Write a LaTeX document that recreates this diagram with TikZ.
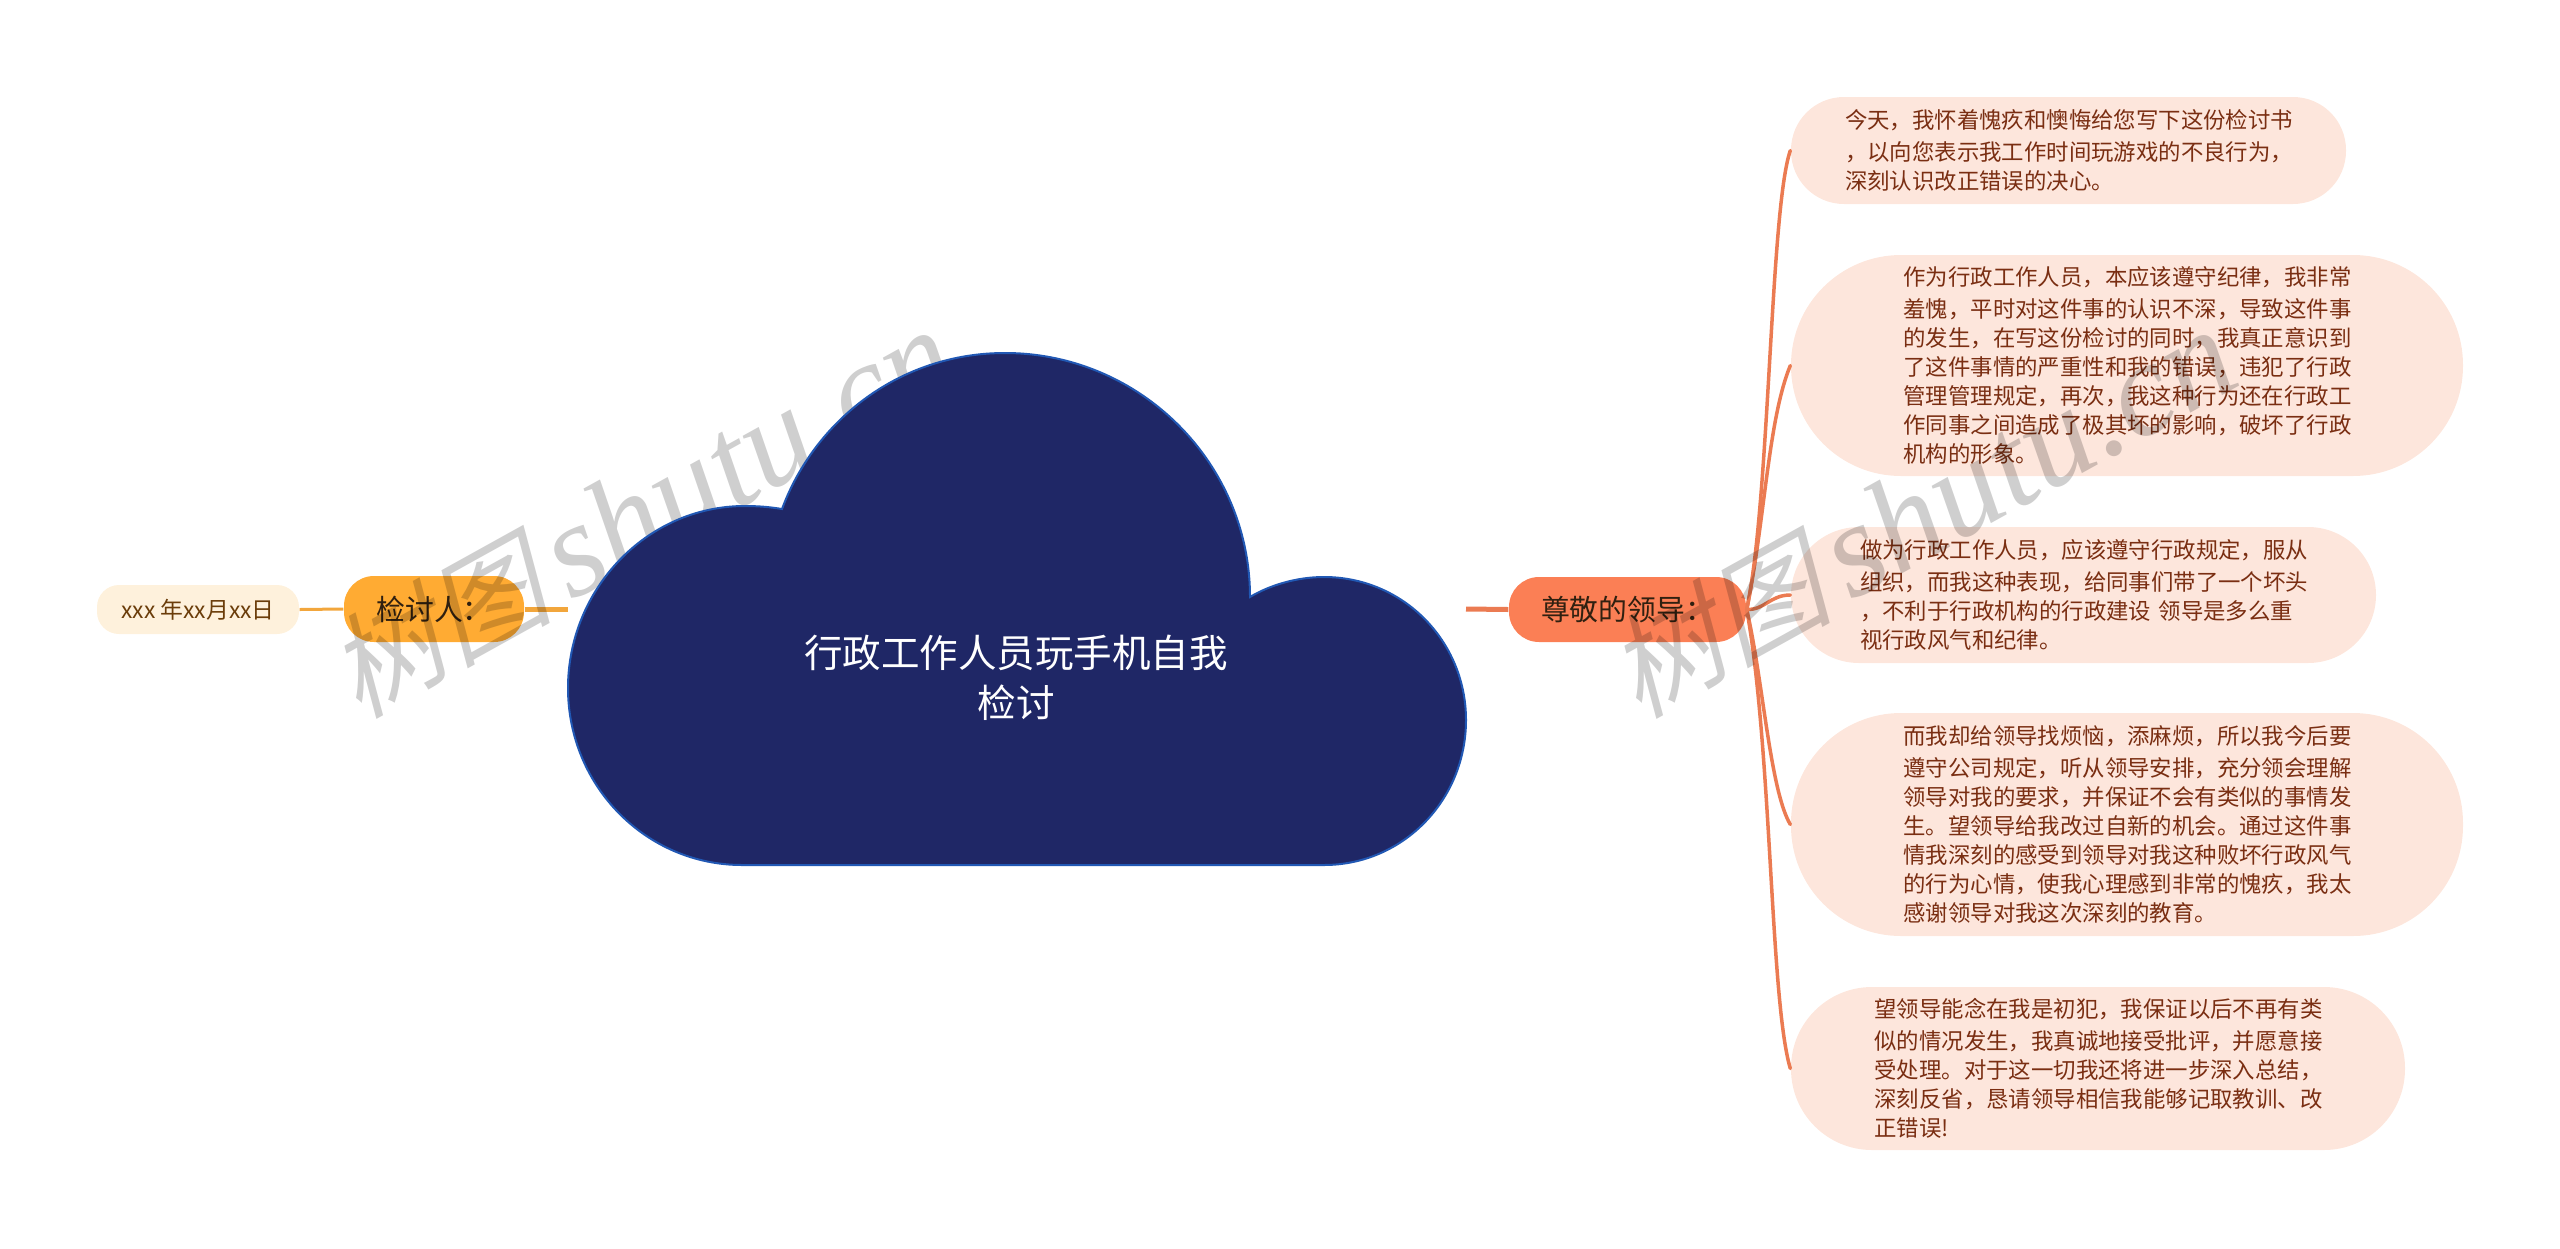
\documentclass[tikz,border=0pt]{standalone}
\usepackage{fontspec}
\setmainfont{Noto Sans CJK SC}
\newfontfamily\wmcjk[FakeSlant=0.25,BoldFeatures={FakeSlant=0.25}]{Noto Sans CJK SC}
\newfontfamily\wmlat{Liberation Serif}
\definecolor{leaffill}{HTML}{FDE6DC}
\definecolor{leafink}{HTML}{7A2E12}
\definecolor{rootfill}{HTML}{1F2766}
\definecolor{rootline}{HTML}{2158B4}
\definecolor{redfill}{HTML}{FB7F55}
\definecolor{redline}{HTML}{EB7B52}
\definecolor{ambfill}{HTML}{FFAB33}
\definecolor{ambline}{HTML}{F2A63C}
\definecolor{datefill}{HTML}{FEF1DC}
\definecolor{dateink}{HTML}{6B3D0A}
\definecolor{wmgray}{HTML}{CFCFCF}
\newlength{\pxu}\setlength{\pxu}{0.01cm}
\newcommand{\wmtext}{{\wmcjk\fontsize{32}{32}\selectfont 树图}\hspace{3pt} {\wmlat\itshape\fontsize{38}{38}\selectfont shutu.cn}}
\tikzset{
  leafbox/.style={fill=leaffill,text=leafink,inner sep=0pt,text width=447\pxu,align=left,
    font=\fontsize{6.37}{8.25}\selectfont,execute at begin node={\vspace*{3\pxu}}},
  topicbox/.style={inner sep=0pt,align=center,font=\fontsize{8.2}{10}\selectfont,text=black!75!brown},
  leafedge/.style={redline,line width=3.5\pxu,line cap=round},
  wmark/.style={text=wmgray,inner sep=0pt,rotate=29,anchor=center}
}
\begin{document}
\begin{tikzpicture}[x=0.01cm,y=-0.01cm]
\useasboundingbox (0,0) rectangle (2560,1248);
% leaf boxes
\node[leafbox,minimum width=555\pxu,minimum height=107\pxu,rounded corners=53\pxu] (l1) at (2068.5,150.5)
 {今天，我怀着愧疚和懊悔给您写下这份检讨书\\，以向您表示我工作时间玩游戏的不良行为，\\深刻认识改正错误的决心。};
\node[leafbox,minimum width=672\pxu,minimum height=221\pxu,rounded corners=110\pxu] (l2) at (2127,365.5)
 {作为行政工作人员，本应该遵守纪律，我非常\\羞愧，平时对这件事的认识不深，导致这件事\\的发生，在写这份检讨的同时，我真正意识到\\了这件事情的严重性和我的错误，违犯了行政\\管理管理规定，再次，我这种行为还在行政工\\作同事之间造成了极其坏的影响，破坏了行政\\机构的形象。};
\node[leafbox,minimum width=585\pxu,minimum height=136\pxu,rounded corners=68\pxu] (l3) at (2083.5,595)
 {做为行政工作人员，应该遵守行政规定，服从\\组织，而我这种表现，给同事们带了一个坏头\\，不利于行政机构的行政建设 领导是多么重\\视行政风气和纪律。};
\node[leafbox,minimum width=672\pxu,minimum height=223\pxu,rounded corners=110\pxu] (l4) at (2127,824.5)
 {而我却给领导找烦恼，添麻烦，所以我今后要\\遵守公司规定，听从领导安排，充分领会理解\\领导对我的要求，并保证不会有类似的事情发\\生。望领导给我改过自新的机会。通过这件事\\情我深刻的感受到领导对我这种败坏行政风气\\的行为心情，使我心理感到非常的愧疚，我太\\感谢领导对我这次深刻的教育。};
\node[leafbox,minimum width=614\pxu,minimum height=163\pxu,rounded corners=81\pxu] (l5) at (2098,1068.5)
 {望领导能念在我是初犯，我保证以后不再有类\\似的情况发生，我真诚地接受批评，并愿意接\\受处理。对于这一切我还将进一步深入总结，\\深刻反省，恳请领导相信我能够记取教训、改\\正错误!};
% topics
\node[topicbox,fill=redfill,minimum width=237\pxu,minimum height=65\pxu,rounded corners=30\pxu] (right) at (1627.5,609.5) {尊敬的领导：};
\node[topicbox,fill=ambfill,minimum width=180\pxu,minimum height=66\pxu,rounded corners=30\pxu] (left) at (434,609) {检讨人：};
\node[fill=datefill,text=dateink,inner sep=0pt,minimum width=202\pxu,minimum height=49\pxu,rounded corners=22\pxu,font=\fontsize{6.5}{8}\selectfont] (date) at (198,609.5) {xxx 年xx月xx日};
% stubs
\coordinate (rootE) at (1466,609);
\coordinate (rootW) at (568,609);
\draw[redline,line width=5\pxu] (rootE) -- (right.west);
\draw[ambline,line width=5\pxu] (left.east) -- (rootW);
\draw[ambline,line width=3\pxu] (date.east) -- (left.west);
% leaf connectors
\draw[leafedge] (right.east) .. controls (1770,500) and (1770,210) .. (l1.west);
\draw[leafedge] (right.east) .. controls (1765,520) and (1768,420) .. (l2.west);
\draw[leafedge] (right.east) .. controls (1765,610) and (1770,595) .. (l3.west);
\draw[leafedge] (right.east) .. controls (1763,680) and (1770,790) .. (l4.west);
\draw[leafedge] (right.east) .. controls (1772,750) and (1770,1000) .. (l5.west);
% watermarks
\begin{scope}[blend mode=multiply]
\node[wmark] (wm1) at (641,514) {\wmtext};
\node[wmark] (wm2) at (1921,514) {\wmtext};
\end{scope}
% root
\draw[fill=rootfill,draw=rootline,line width=2\pxu]
 (782,509) .. controls (815,420) and (900,353) .. (1005,353)
 .. controls (1140,353) and (1250,463) .. (1250,597)
 .. controls (1270,585) and (1297,577) .. (1324,577)
 .. controls (1403,577) and (1466,641) .. (1466,720)
 .. controls (1466,800) and (1403,865) .. (1324,865)
 -- (742,865)
 .. controls (646,865) and (568,786) .. (568,688)
 .. controls (568,590) and (646,506) .. (745,506)
 .. controls (758,506) and (770,507) .. (782,509) -- cycle;
\node[text=white,inner sep=0pt,align=center,font=\fontsize{10.96}{14.2}\selectfont] (root) at (1016,678) {行政工作人员玩手机自我\\检讨};
\end{tikzpicture}
\end{document}
